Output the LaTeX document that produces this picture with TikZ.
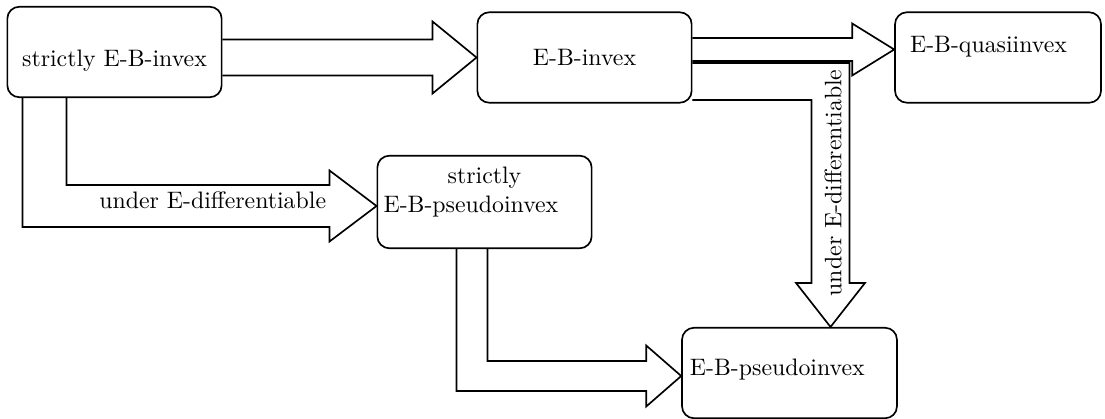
\documentclass[tikz,border=0pt]{standalone}
\usepackage{tikz}
\usetikzlibrary{calc}

\begin{document}
\begin{tikzpicture}[x=0.42pt, y=-0.42pt,
    box/.style={draw, rounded corners=5pt, line width=0.7pt, minimum width=90pt, minimum height=38pt},
    hollow/.style={draw, line width=0.7pt, line join=miter},
    lbl/.style={inner sep=0pt}
]
\useasboundingbox (0,0) rectangle (1105,419);

\node[box, text height=14.5pt, text depth=1.9pt] (sinv) at (114.5,52) {strictly E-B-invex};
\node[box] (inv) at (584.5,57.5) {E-B-invex};
\node[box, minimum width=86.5pt, text width=73.9pt, inner xsep=6.3pt, align=left, text height=6.8pt, text depth=11.4pt] (qinv) at (998,57.5) {E-B-quasiinvex};
\node[box] (spinv) at (484.5,202) {\begin{tabular}{@{}c@{}}strictly\\\hspace*{-11.4pt}E-B-pseudoinvex\\[8.2pt]\end{tabular}};
\node[box, text width=83.6pt, align=left, text height=6.9pt, text depth=4.4pt] (pinv) at (789.5,373) {E-B-pseudoinvex};

\coordinate (qtip) at ($(qinv.west)+(0,-8)$);
\coordinate (ltip) at ($(spinv.west)+(0,4)$);
\coordinate (btip) at ($(pinv.west)+(0,3)$);
\coordinate (vtip) at ($(pinv.north)+(41,0)$);

\draw[hollow] ($(sinv.east |- inv.west)+(0,-18)$) -- ($(inv.west)+(-44,-18)$) -- ($(inv.west)+(-44,-36)$) -- (inv.west)
    -- ($(inv.west)+(-44,36)$) -- ($(inv.west)+(-44,18)$) -- ($(sinv.east |- inv.west)+(0,18)$);
\draw[hollow] ($(inv.east |- qtip)+(0,-11.5)$) -- ($(qtip)+(-42,-11.5)$) -- ($(qtip)+(-42,-26)$) -- (qtip)
    -- ($(qtip)+(-42,26)$) -- ($(qtip)+(-42,11.5)$) -- ($(inv.east |- qtip)+(0,11.5)$);
\draw[hollow] ($(inv.east)+(0,5.5)$) -| ($(vtip)+(19,-44)$) -- ($(vtip)+(34.5,-44)$) -- (vtip)
    -- ($(vtip)+(-34.5,-44)$) -- ($(vtip)+(-19,-44)$) |- ($(inv.east)+(0,42.5)$);
\draw[hollow] ($(sinv.south west)+(60,0)$) |- ($(ltip)+(-47,-21)$) -- ($(ltip)+(-47,-35.5)$) -- (ltip)
    -- ($(ltip)+(-47,35.5)$) -- ($(ltip)+(-47,21)$) -| ($(sinv.south west)+(16,0)$);
\draw[hollow] ($(spinv.south west)+(111,0)$) |- ($(btip)+(-35,-15)$) -- ($(btip)+(-35,-30.5)$) -- (btip)
    -- ($(btip)+(-35,30.5)$) -- ($(btip)+(-35,15)$) -| ($(spinv.south west)+(80,0)$);

\node[lbl, anchor=east] (diff1) at ($(ltip)+(-50,-6)$) {under E-differentiable};
\node[lbl, rotate=90] (diff2) at ($(vtip)+(2.5,-144)$) {under E-differentiable};
\end{tikzpicture}
\end{document}
